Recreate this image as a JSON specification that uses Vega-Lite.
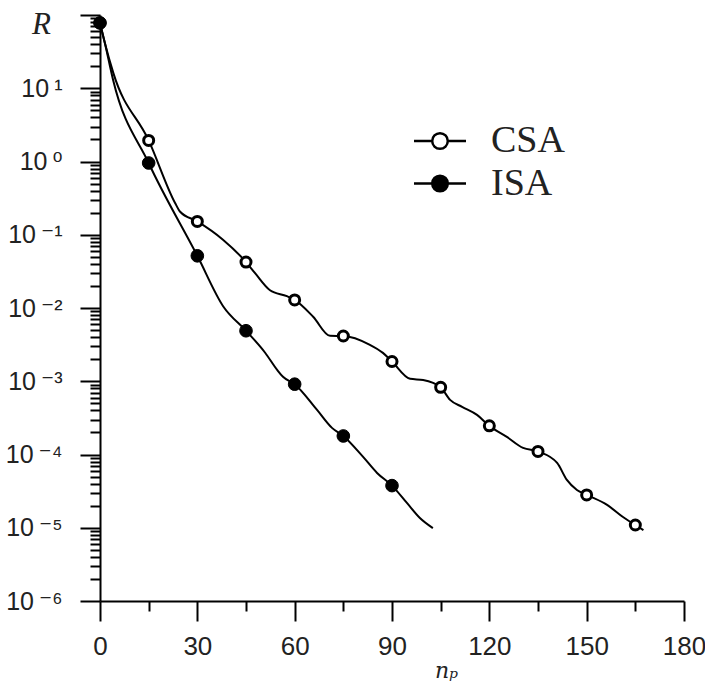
{
  "$schema": "https://vega.github.io/schema/vega-lite/v6.json",
  "width": 584,
  "height": 586,
  "autosize": "none",
  "padding": {"left": 100, "top": 15, "right": 21, "bottom": 85},
  "background": "white",
  "config": {
    "view": {"stroke": null},
    "axis": {"grid": false, "domainColor": "black", "domainWidth": 2, "tickColor": "black", "tickWidth": 2, "labelColor": "#222", "labelFont": "Liberation Sans, DejaVu Sans"}
  },
  "datasets": {
    "curve": [
      {"s": "CSA", "n": 0, "R": 78},
      {"s": "CSA", "n": 1.5, "R": 41.6},
      {"s": "CSA", "n": 4.1, "R": 16.2},
      {"s": "CSA", "n": 15, "R": 1.94},
      {"s": "CSA", "n": 23.1, "R": 0.274},
      {"s": "CSA", "n": 24.7, "R": 0.206},
      {"s": "CSA", "n": 30, "R": 0.152},
      {"s": "CSA", "n": 37.9, "R": 0.0855},
      {"s": "CSA", "n": 45, "R": 0.0424},
      {"s": "CSA", "n": 47.8, "R": 0.0299},
      {"s": "CSA", "n": 52.4, "R": 0.0175},
      {"s": "CSA", "n": 57.6, "R": 0.0145},
      {"s": "CSA", "n": 60, "R": 0.0129},
      {"s": "CSA", "n": 65.7, "R": 0.00759},
      {"s": "CSA", "n": 70.9, "R": 0.00417},
      {"s": "CSA", "n": 75, "R": 0.00415},
      {"s": "CSA", "n": 83.2, "R": 0.00314},
      {"s": "CSA", "n": 87.2, "R": 0.00244},
      {"s": "CSA", "n": 90, "R": 0.00186},
      {"s": "CSA", "n": 95.6, "R": 0.00108},
      {"s": "CSA", "n": 99.6, "R": 0.00104},
      {"s": "CSA", "n": 105, "R": 0.000826},
      {"s": "CSA", "n": 107.9, "R": 0.000557},
      {"s": "CSA", "n": 111.6, "R": 0.000447},
      {"s": "CSA", "n": 116.2, "R": 0.000347},
      {"s": "CSA", "n": 120, "R": 0.000246},
      {"s": "CSA", "n": 125.4, "R": 0.000174},
      {"s": "CSA", "n": 130.4, "R": 0.000123},
      {"s": "CSA", "n": 135, "R": 0.00011},
      {"s": "CSA", "n": 140.9, "R": 0.0000767},
      {"s": "CSA", "n": 143.9, "R": 0.000045},
      {"s": "CSA", "n": 147, "R": 0.0000328},
      {"s": "CSA", "n": 150, "R": 0.0000281},
      {"s": "CSA", "n": 156.3, "R": 0.0000205},
      {"s": "CSA", "n": 161.2, "R": 0.000014},
      {"s": "CSA", "n": 165, "R": 0.0000109},
      {"s": "CSA", "n": 167.5, "R": 0.0000093},
      {"s": "ISA", "n": 0, "R": 78},
      {"s": "ISA", "n": 1.5, "R": 41.6},
      {"s": "ISA", "n": 4, "R": 13.2},
      {"s": "ISA", "n": 15, "R": 0.954},
      {"s": "ISA", "n": 30, "R": 0.0516},
      {"s": "ISA", "n": 38, "R": 0.0105},
      {"s": "ISA", "n": 45, "R": 0.00489},
      {"s": "ISA", "n": 50.9, "R": 0.00245},
      {"s": "ISA", "n": 54.6, "R": 0.00143},
      {"s": "ISA", "n": 56.4, "R": 0.00115},
      {"s": "ISA", "n": 60, "R": 0.000912},
      {"s": "ISA", "n": 66.9, "R": 0.000406},
      {"s": "ISA", "n": 71.5, "R": 0.000231},
      {"s": "ISA", "n": 75, "R": 0.000179},
      {"s": "ISA", "n": 81.1, "R": 0.0000927},
      {"s": "ISA", "n": 85.4, "R": 0.000056},
      {"s": "ISA", "n": 90, "R": 0.0000376},
      {"s": "ISA", "n": 94.6, "R": 0.0000218},
      {"s": "ISA", "n": 98.6, "R": 0.0000136},
      {"s": "ISA", "n": 102.6, "R": 0.0000099}
    ],
    "markers": [
      {"s": "CSA", "n": 0, "R": 78},
      {"s": "CSA", "n": 15, "R": 1.94},
      {"s": "CSA", "n": 30, "R": 0.152},
      {"s": "CSA", "n": 45, "R": 0.0424},
      {"s": "CSA", "n": 60, "R": 0.0129},
      {"s": "CSA", "n": 75, "R": 0.00415},
      {"s": "CSA", "n": 90, "R": 0.00186},
      {"s": "CSA", "n": 105, "R": 0.000826},
      {"s": "CSA", "n": 120, "R": 0.000246},
      {"s": "CSA", "n": 135, "R": 0.00011},
      {"s": "CSA", "n": 150, "R": 0.0000281},
      {"s": "CSA", "n": 165, "R": 0.0000109},
      {"s": "ISA", "n": 0, "R": 78},
      {"s": "ISA", "n": 15, "R": 0.954},
      {"s": "ISA", "n": 30, "R": 0.0516},
      {"s": "ISA", "n": 45, "R": 0.00489},
      {"s": "ISA", "n": 60, "R": 0.000912},
      {"s": "ISA", "n": 75, "R": 0.000179},
      {"s": "ISA", "n": 90, "R": 0.0000376}
    ]
  },
  "encoding": {
    "x": {
      "field": "n", "type": "quantitative",
      "scale": {"domain": [0, 180], "nice": false, "zero": false},
      "axis": {
        "values": [0, 15, 30, 45, 60, 75, 90, 105, 120, 135, 150, 165, 180],
        "tickSize": {"condition": {"test": "datum.value % 30 == 0", "value": 20}, "value": 10},
        "labelExpr": "datum.value % 30 == 0 ? datum.label : ''",
        "labelFontSize": 26, "labelPadding": 12, "labelOverlap": false, "labelFlush": false,
        "title": "nₚ", "titleFont": "DejaVu Serif", "titleFontStyle": "italic", "titleFontWeight": "normal",
        "titleFontSize": 22, "titleColor": "#222", "titleX": 346, "titleY": 76, "titleAlign": "center", "titleBaseline": "alphabetic"
      }
    },
    "y": {
      "field": "R", "type": "quantitative",
      "scale": {"type": "log", "domain": [0.000001, 100], "nice": false},
      "axis": {
        "values": [0.000001, 0.000002, 0.000003, 0.000004, 0.000005, 0.000006, 0.000007, 0.000008, 0.000009,
                   0.00001, 0.00002, 0.00003, 0.00004, 0.00005, 0.00006, 0.00007, 0.00008, 0.00009,
                   0.0001, 0.0002, 0.0003, 0.0004, 0.0005, 0.0006, 0.0007, 0.0008, 0.0009,
                   0.001, 0.002, 0.003, 0.004, 0.005, 0.006, 0.007, 0.008, 0.009,
                   0.01, 0.02, 0.03, 0.04, 0.05, 0.06, 0.07, 0.08, 0.09,
                   0.1, 0.2, 0.3, 0.4, 0.5, 0.6, 0.7, 0.8, 0.9,
                   1, 2, 3, 4, 5, 6, 7, 8, 9,
                   10, 20, 30, 40, 50, 60, 70, 80, 90, 100],
        "tickSize": {"condition": {"test": "abs(log(datum.value)/LN10 - round(log(datum.value)/LN10)) < 0.001", "value": 20}, "value": 10},
        "labelExpr": "abs(log(datum.value)/LN10 - round(log(datum.value)/LN10)) < 0.001 && round(log(datum.value)/LN10) < 2 ? '10\u2009' + ['⁻⁶','⁻⁵','⁻⁴','⁻³','⁻²','⁻¹','⁰','¹'][round(log(datum.value)/LN10) + 6] : ''",
        "labelFontSize": 25, "labelPadding": 18, "labelOverlap": false, "labelFlush": false, "labelBaseline": "middle",
        "title": "R", "titleFont": "Liberation Serif", "titleFontStyle": "italic", "titleFontWeight": "normal",
        "titleFontSize": 31, "titleColor": "#222", "titleAngle": 0, "titleX": -59, "titleY": 18, "titleAlign": "center", "titleBaseline": "alphabetic"
      }
    }
  },
  "layer": [
    {
      "data": {"name": "curve"},
      "mark": {"type": "line", "color": "black", "strokeWidth": 2, "interpolate": "monotone"},
      "encoding": {"detail": {"field": "s", "type": "nominal"}}
    },
    {
      "data": {"name": "markers"},
      "mark": {"type": "point", "shape": "circle", "filled": true, "stroke": "black", "opacity": 1},
      "encoding": {
        "fill": {
          "field": "s", "type": "nominal",
          "scale": {"domain": ["CSA", "ISA"], "range": ["white", "black"]},
          "legend": {
            "orient": "none", "legendX": 321, "legendY": 107, "title": null,
            "symbolType": "M-2,0H-0.6M0.6,0H2M-0.6,0A0.6,0.6 0 1,0 0.6,0A0.6,0.6 0 1,0 -0.6,0Z",
            "symbolSize": 676, "symbolStrokeColor": "black", "symbolStrokeWidth": 2.5, "symbolOpacity": 1,
            "labelFont": "Liberation Serif", "labelFontSize": 38, "labelColor": "#222", "labelOffset": 32,
            "rowPadding": 4.5, "padding": 0
          }
        },
        "size": {"condition": {"test": "datum.s == 'ISA'", "value": 160}, "value": 100},
        "strokeWidth": {"condition": {"test": "datum.s == 'ISA'", "value": 1}, "value": 3}
      }
    }
  ]
}
